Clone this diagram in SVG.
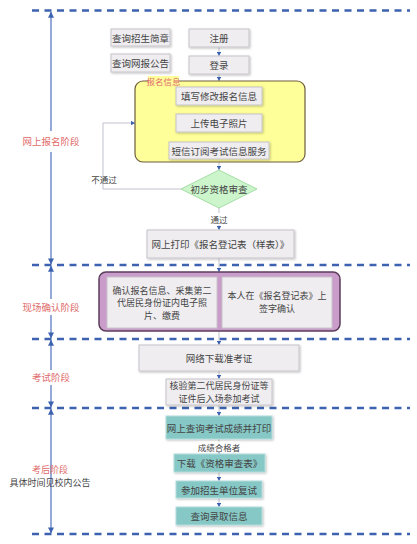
<svg xmlns="http://www.w3.org/2000/svg" width="417" height="544" viewBox="0 0 417 544">
<defs>
<marker id="ah" viewBox="0 0 6 6" refX="5" refY="3" markerWidth="5" markerHeight="5" orient="auto"><path d="M0,0 L6,3 L0,6 z" fill="#3d62b0"/></marker>
<marker id="big" viewBox="0 0 8 8" refX="7.5" refY="4" markerWidth="6" markerHeight="6" markerUnits="userSpaceOnUse" orient="auto"><path d="M0,0 L8,4 L0,8 z" fill="#3d62b0"/></marker>
<filter id="sh" x="-10%" y="-10%" width="130%" height="140%"><feDropShadow dx="1" dy="1" stdDeviation="0.8" flood-color="#000" flood-opacity="0.25"/></filter>
</defs>
<style>
text{font-family:"Noto Sans CJK SC","Noto Sans",sans-serif;font-size:9.5px;fill:#444;text-anchor:middle;dominant-baseline:central}
.g{fill:#efedf0;stroke:#c8c4ca;stroke-width:1;filter:url(#sh)}
.t{fill:#86c8c6;stroke:#b4dcdc;stroke-width:1;filter:url(#sh)}
.dash{stroke:#3d62b0;stroke-width:2.6;stroke-dasharray:7,5.5;fill:none}
.stage{stroke:#5a7cc4;stroke-width:1.3;fill:none}
.c{stroke:#b8bcc8;stroke-width:0.9;fill:none;marker-end:url(#ah)}
.red{fill:#e06b6b}
.sm{font-size:8.5px}
.ml{font-size:9px}
</style>
<rect width="417" height="544" fill="#fff"/>
<g id="dividers">
<line class="dash" x1="32" y1="10.5" x2="410" y2="10.5"/>
<line class="dash" x1="32" y1="265" x2="410" y2="265"/>
<line class="dash" x1="32" y1="339" x2="410" y2="339"/>
<line class="dash" x1="32" y1="408" x2="410" y2="408"/>
<line class="dash" x1="32" y1="534" x2="410" y2="534"/>
</g>
<g id="stages">
<line class="stage" x1="51" y1="131" x2="51" y2="12" marker-end="url(#big)"/>
<line class="stage" x1="51" y1="152" x2="51" y2="264" marker-end="url(#big)"/>
<text class="red" x="51" y="141">网上报名阶段</text>
<line class="stage" x1="51" y1="299" x2="51" y2="266" marker-end="url(#big)"/>
<line class="stage" x1="51" y1="315" x2="51" y2="338" marker-end="url(#big)"/>
<text class="red" x="51" y="307">现场确认阶段</text>
<line class="stage" x1="51" y1="370" x2="51" y2="340" marker-end="url(#big)"/>
<line class="stage" x1="51" y1="385" x2="51" y2="407" marker-end="url(#big)"/>
<text class="red" x="51" y="377">考试阶段</text>
<line class="stage" x1="51" y1="470" x2="51" y2="409" marker-end="url(#big)"/>
<line class="stage" x1="51" y1="470" x2="51" y2="533" marker-end="url(#big)"/>
<text class="red ml" x="50" y="469.5">考后阶段</text>
<text class="ml" x="50" y="482.5">具体时间见校内公告</text>
</g>
<g id="connectors">
<line class="c" x1="219" y1="47" x2="219" y2="55.5"/>
<line class="c" x1="219" y1="74" x2="219" y2="80.5"/>
<line class="c" x1="219" y1="162" x2="219" y2="169.5"/>
<line class="c" x1="219" y1="208" x2="219" y2="229.5"/>
<polyline class="c" points="181,189 103,189 103,123 134.5,123"/>
<line class="c" x1="219" y1="258" x2="219" y2="271.5"/>
<line x1="219" y1="272" x2="219" y2="331" stroke="#b8bcc8" stroke-width="0.9"/>
<line class="c" x1="219" y1="331" x2="219" y2="344.5"/>
<line class="c" x1="219" y1="371" x2="219" y2="378.5"/>
<line class="c" x1="219" y1="405" x2="219" y2="415.5"/>
<line class="c" x1="219" y1="439" x2="219" y2="453.5"/>
<line class="c" x1="219" y1="472" x2="219" y2="480.5"/>
<line class="c" x1="219" y1="498" x2="219" y2="506.5"/>
</g>
<g id="n-jianzhang"><rect class="g" x="111" y="29" width="59" height="17"/><text x="140.5" y="37.5">查询招生简章</text></g>
<g id="n-gonggao"><rect class="g" x="111" y="54" width="59" height="18"/><text x="140.5" y="63">查询网报公告</text></g>
<g id="n-zhuce"><rect class="g" x="189" y="29" width="60" height="18"/><text x="219" y="38">注册</text></g>
<g id="n-denglu"><rect class="g" x="189" y="56" width="60" height="18"/><text x="219" y="65">登录</text></g>
<g id="n-baoming">
<rect x="135" y="81" width="170" height="81" rx="8" fill="#ffff99" stroke="#6e5d3c" stroke-width="1.2"/>
<rect x="148" y="76" width="31" height="10" fill="#ffff99"/>
<text class="red sm" x="163.5" y="81">报名信息</text>
</g>
<g id="n-tianxie"><rect class="g" x="176" y="87" width="86" height="18"/><text x="219" y="96">填写修改报名信息</text></g>
<g id="n-shangchuan"><rect class="g" x="176" y="114" width="86" height="18"/><text x="219" y="123">上传电子照片</text></g>
<g id="n-duanxin"><rect class="g" x="169" y="142" width="100" height="17"/><text x="219" y="150.5">短信订阅考试信息服务</text></g>
<g id="n-shencha"><polygon points="219,170 257,189 219,208 181,189" fill="#ccf5cc" stroke="#a4dca4" stroke-width="1"/><text x="219" y="189">初步资格审查</text></g>
<g id="l-butongguo"><text class="sm" x="104" y="179" fill="#666">不通过</text></g>
<g id="l-tongguo"><rect x="209" y="213" width="20" height="12" fill="#fff"/><text class="sm" x="219" y="219">通过</text></g>
<g id="n-dayin"><rect class="g" x="147" y="230" width="147" height="28"/><text x="220.5" y="244">网上打印《报名登记表（样表）》</text></g>
<g id="n-queren">
<rect x="99" y="272" width="241" height="59" rx="7" fill="#c99cca" stroke="#5c3d5c" stroke-width="1.5"/>
<rect x="107" y="277" width="110" height="51" fill="#efedf0" stroke="#c8c4ca"/>
<rect x="222" y="277" width="110" height="51" fill="#efedf0" stroke="#c8c4ca"/>
<text class="ml" x="162" y="290">确认报名信息、采集第二</text>
<text class="ml" x="162" y="302.5">代居民身份证内电子照</text>
<text class="ml" x="162" y="315">片、缴费</text>
<text class="ml" x="277" y="295.5">本人在《报名登记表》上</text>
<text class="ml" x="277" y="308.5">签字确认</text>
</g>
<g id="n-zhunkaozheng"><rect class="g" x="139" y="345" width="160" height="26"/><text x="219" y="358">网络下载准考证</text></g>
<g id="n-hejian"><rect class="g" x="166" y="379" width="106" height="26"/><text class="ml" x="219" y="385.5">核验第二代居民身份证等</text><text class="ml" x="219" y="398">证件后入场参加考试</text></g>
<g id="n-chengji"><rect class="t" x="166" y="416" width="106" height="23"/><text x="219" y="427.5">网上查询考试成绩并打印</text></g>
<g id="l-hege"><rect x="198" y="441.5" width="42" height="11" fill="#fff"/><text class="sm" x="219" y="447">成绩合格者</text></g>
<g id="n-xiazai"><rect class="t" x="174" y="454" width="91" height="18"/><text x="219.5" y="463">下载《资格审查表》</text></g>
<g id="n-fushi"><rect class="t" x="176" y="481" width="86" height="17"/><text x="219" y="489.5">参加招生单位复试</text></g>
<g id="n-luqu"><rect class="t" x="176" y="507" width="86" height="18"/><text x="219" y="516">查询录取信息</text></g>
</svg>
